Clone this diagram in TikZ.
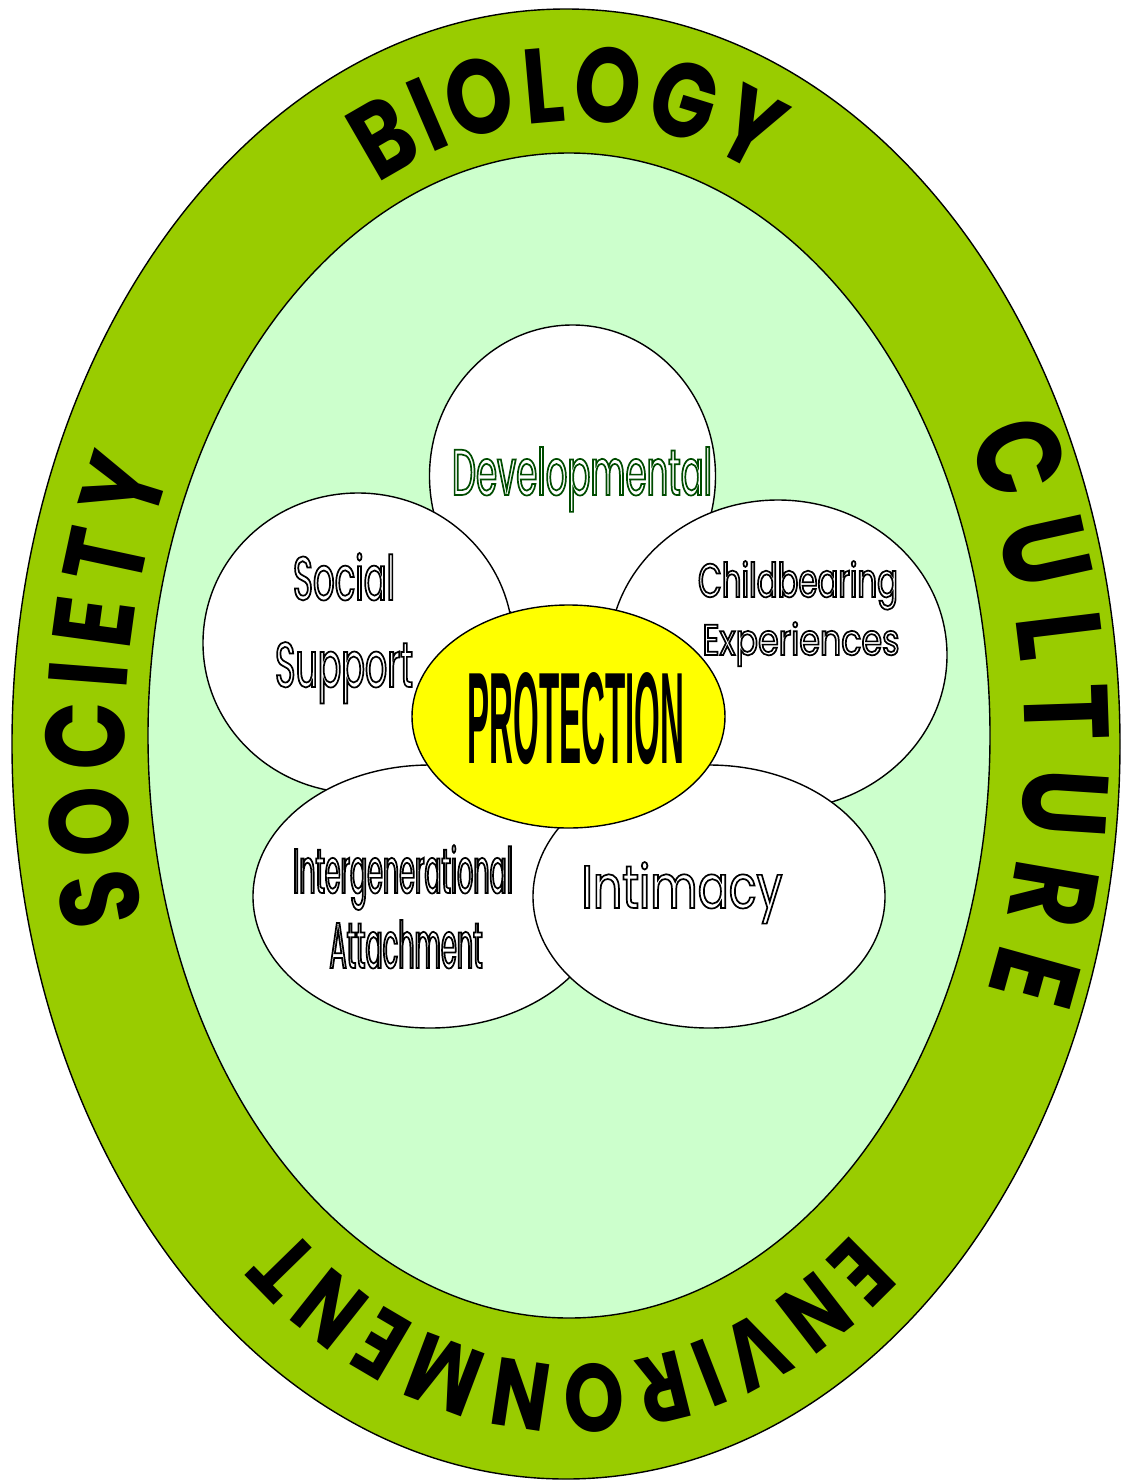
\documentclass[tikz,border=0pt]{standalone}
\usepackage{fontspec}
\usetikzlibrary{decorations.text}
\setmainfont{Poppins}
\newfontfamily\arcfont[FakeStretch=0.8]{Poppins}
\newfontfamily\labfont{Poppins}
\newfontfamily\protfont{Liberation Sans}
\definecolor{bandgreen}{HTML}{99CC00}
\definecolor{innergreen}{HTML}{CCFFCC}
\definecolor{protyellow}{HTML}{FFFF00}
\newcommand\bioF{\arcfont\bfseries\fontsize{106}{106}\selectfont}
\newcommand\socF{\arcfont\bfseries\fontsize{112}{112}\selectfont}
\newcommand\culF{\arcfont\bfseries\fontsize{120}{120}\selectfont}
\newcommand\envF{\arcfont\bfseries\fontsize{96}{96}\selectfont}
\newlength\fitw
\newlength\fith
% set font size and horizontal stretch so that #3 is #1 wide and #2 high
\newcommand\fitsetup[3]{%
  \fontsize{100}{100}\selectfont
  \settoheight\fith{#3}%
  \pgfmathsetmacro\fitsz{100*#2/\fith}%
  \fontsize{\fitsz}{\fitsz}\selectfont
  \settowidth\fitw{#3}%
  \pgfmathsetmacro\fitst{#1/\fitw}%
  \edef\fittmp{\noexpand\addfontfeatures{FakeStretch=\fitst}}\fittmp}
% hollow text: white fill, coloured outline
\newcommand\hollowtext[4]{{\labfont\fitsetup{#1}{#2}{#4}%
  \color{white}\special{pdf:literal #3 RG 2 Tr 1.7 w}#4\special{pdf:literal 0 Tr}}}
\newcommand\solidtext[3]{{\protfont\bfseries\fitsetup{#1}{#2}{#3}#3}}
\begin{document}
\begin{tikzpicture}[x=1pt,y=1pt,
  shapeline/.style={draw=black, line width=1.4pt},
  petal/.style={shapeline, fill=white},
  lbl/.style={inner sep=0pt, outer sep=0pt, anchor=base},
  arctext/.style={decorate, decoration={text along path, text align=fit to path}}]
\useasboundingbox (0,0) rectangle (1132,-1481);
\coordinate (oc) at (566,-744);
\coordinate (ic) at (569,-735.5);
\coordinate (tc) at (575,-743);
% rings
\path[shapeline, fill=bandgreen] (oc) ellipse [x radius=554, y radius=735];
\path[shapeline, fill=innergreen] (ic) ellipse [x radius=421, y radius=582.5];
% curved words
\path[arctext, decoration={text={|\bioF|BIOLOGY}}]
  (tc) ++(116:450 and 622) arc[start angle=116, end angle=66, x radius=450, y radius=622];
\path[arctext, decoration={text={|\socF|SOCIETY}}]
  (tc) ++(196.5:450 and 622) arc[start angle=196.5, end angle=154, x radius=450, y radius=622];
\path[arctext, decoration={text={|\culF|CULTURE}}]
  (tc) ++(29.5:450 and 622) arc[start angle=29.5, end angle=-23.5, x radius=450, y radius=622];
\path[arctext, decoration={text={|\envF|ENVIRONMENT}}]
  (tc) ++(-52:450 and 622) arc[start angle=-52, end angle=-129, x radius=450, y radius=622];
% petals
\path[petal] (572.5,-476) ellipse [x radius=143, y radius=151];
\path[petal] (358,-643) ellipse [x radius=155, y radius=150];
\path[petal] (778,-655) ellipse [x radius=169, y radius=155];
\path[petal] (430,-896.5) ellipse [x radius=177, y radius=131.5];
\path[petal] (709,-896.5) ellipse [x radius=176, y radius=131.5];
\path[shapeline, fill=protyellow] (568.5,-716.5) ellipse [x radius=156.5, y radius=111.5];
% labels
\node[lbl] (dev)  at (582,-495) {\hollowtext{260}{48}{0 0.3 0}{Developmental}};
\node[lbl] (soc1) at (344,-600) {\hollowtext{102}{47}{0 0 0}{Social}};
\node[lbl] (soc2) at (344,-687) {\hollowtext{138}{45}{0 0 0}{Support}};
\node[lbl] (chi1) at (798,-597) {\hollowtext{200}{36}{0 0 0}{Childbearing}};
\node[lbl] (chi2) at (801,-655) {\hollowtext{197}{33}{0 0 0}{Experiences}};
\node[lbl] (int1) at (403,-893) {\hollowtext{220}{48}{0 0 0}{Intergenerational}};
\node[lbl] (int2) at (406,-968) {\hollowtext{153}{48}{0 0 0}{Attachment}};
\node[lbl] (intm) at (682,-908) {\hollowtext{201}{46}{0 0 0}{Intimacy}};
\node[lbl] (prot) at (576,-763) {\solidtext{217}{91}{PROTECTION}};
\end{tikzpicture}
\end{document}
